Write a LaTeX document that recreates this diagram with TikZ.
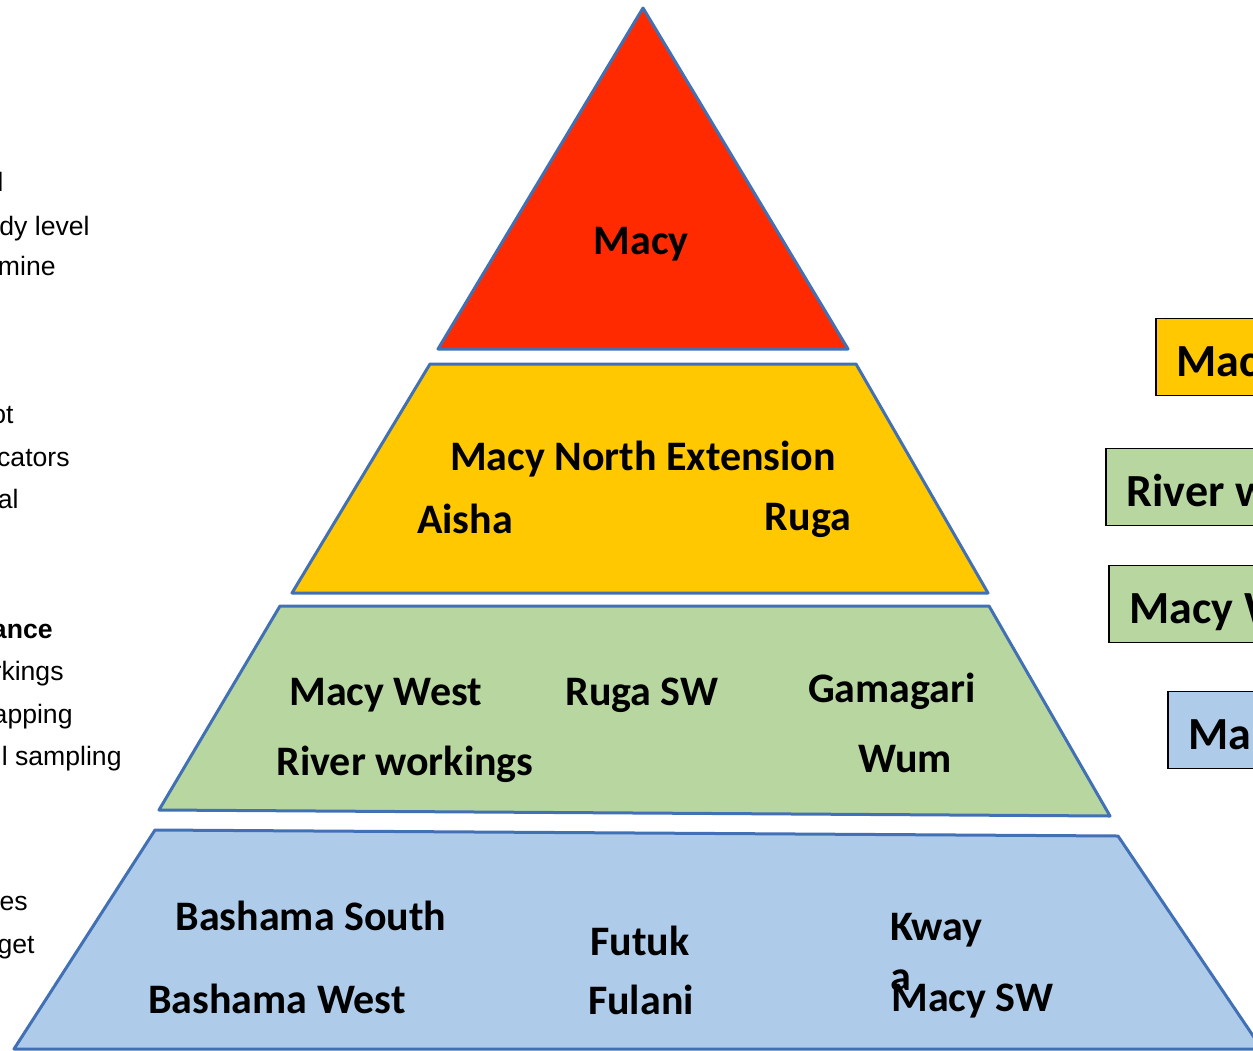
\documentclass[tikz,border=0pt]{standalone}
\usepackage{fontspec}
\setmainfont{Carlito}
\newfontfamily\arialfont{Liberation Sans}
\definecolor{edgeblue}{HTML}{4170B4}
\definecolor{tierred}{HTML}{FF2A00}
\definecolor{tieryellow}{HTML}{FFC800}
\definecolor{tiergreen}{HTML}{B8D7A0}
\definecolor{tierblue}{HTML}{AECCEA}
\newcommand{\tagtext}[1]{\makebox[200pt][l]{#1}}
\begin{document}
\begin{tikzpicture}[x=0.5pt,y=-0.5pt,
    layer/.style={draw=edgeblue,line width=1.5pt,line join=round},
    lbl/.style={font=\fontsize{21}{25}\selectfont\bfseries,anchor=base,inner sep=0pt},
    note/.style={font=\arialfont\fontsize{13.3}{16}\selectfont,anchor=base east,inner sep=0pt},
    tag/.style={draw=black,line width=0.75pt,anchor=west,minimum height=38.5pt,
      inner xsep=10.5pt,inner ysep=0pt,text height=20.5pt,text depth=1.5pt,
      font=\fontsize{23}{27}\selectfont\bfseries}]
  \useasboundingbox (0,0) rectangle (1253,1050);
  % notes on the left, cut by the page edge
  \node[note] (n1) at (4,191) {\bfseries l};
  \node[note] (n2) at (90,235) {dy level};
  \node[note] (n3) at (56,275) {mine};
  \node[note] (n4) at (14,423) {ot};
  \node[note] (n5) at (70,466) {cators};
  \node[note] (n6) at (19,508) {al};
  \node[note] (n7) at (53,638) {\bfseries ance};
  \node[note] (n8) at (64,680) {rkings};
  \node[note] (n9) at (73,723) {apping};
  \node[note] (n10) at (122,765) {l sampling};
  \node[note] (n11) at (28,910) {es};
  \node[note] (n12) at (35,953) {get};
  % pyramid
  \draw[layer,fill=tierred] (643,8) -- (848,349) -- (438,349) -- cycle;
  \draw[layer,fill=tieryellow] (430,364) -- (856,364) -- (988,593) -- (292,593) -- cycle;
  \draw[layer,fill=tiergreen] (280,606) -- (989,606) -- (1110,816) -- (159,810) -- cycle;
  \draw[layer,fill=tierblue] (155,830) -- (1118,836) -- (1262,1049) -- (14,1049) -- cycle;
  % names
  \node[lbl] (macy) at (641,254) {Macy};
  \node[lbl] (mne) at (643,470) {Macy North Extension};
  \node[lbl] (aisha) at (465,533) {Aisha};
  \node[lbl] (ruga) at (808,530) {Ruga};
  \node[lbl] (macyw) at (386,705) {Macy West};
  \node[lbl] (rugasw) at (642,705) {Ruga SW};
  \node[lbl] (gama) at (892,702) {Gamagari};
  \node[lbl] (river) at (405,775) {River workings};
  \node[lbl] (wum) at (905,772) {Wum};
  \node[lbl] (bsouth) at (311,930) {Bashama South};
  \node[lbl] (bwest) at (277,1013) {Bashama West};
  \node[lbl] (futuk) at (640,955) {Futuk};
  \node[lbl] (fulani) at (641,1014) {Fulani};
  \node[lbl,anchor=base west,align=left] (kwaya) at (890,990) {Kway\\a};
  \node[lbl,anchor=base west] (macysw) at (891,1011) {Macy SW};
  % boxes on the right, cut by the page edge
  \node[tag,fill=tieryellow] (t1) at (1155,357) {\tagtext{Mac}};
  \node[tag,fill=tiergreen] (t2) at (1105,487) {\tagtext{River w}};
  \node[tag,fill=tiergreen] (t3) at (1108,604) {\tagtext{Macy W}};
  \node[tag,fill=tierblue] (t4) at (1167,730) {\tagtext{Ma}};
\end{tikzpicture}
\end{document}
